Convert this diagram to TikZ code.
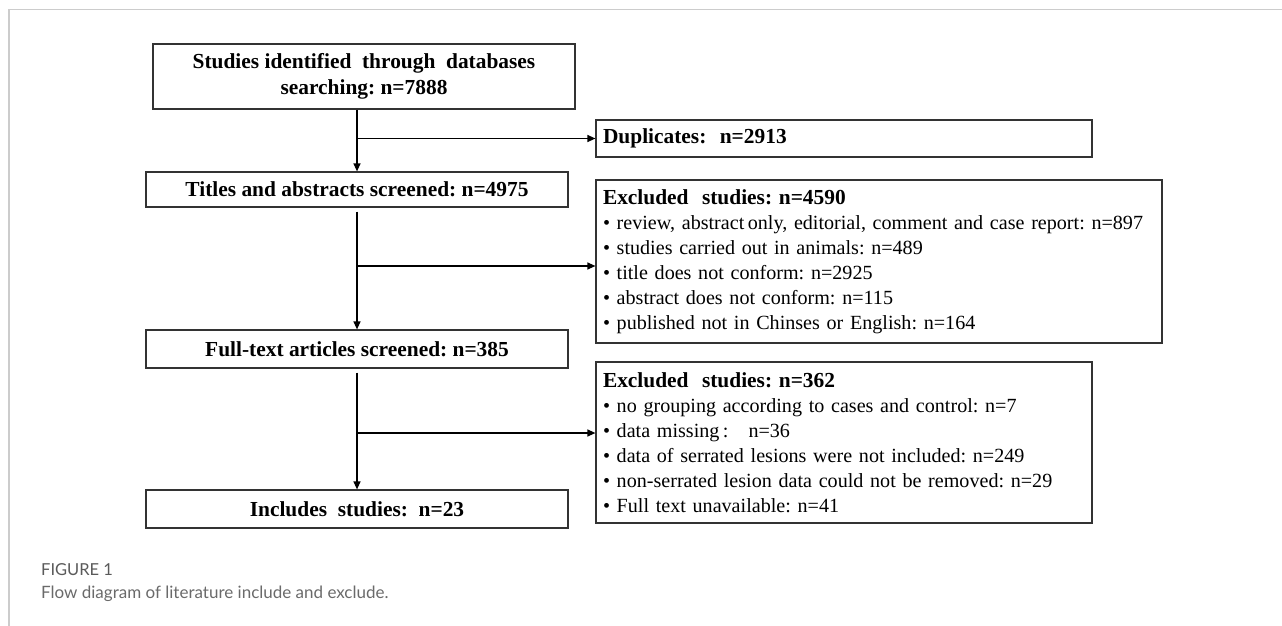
\documentclass[tikz,border=0pt]{standalone}
\usepackage{fontspec}
\setmainfont{Liberation Serif}
\newfontfamily\capfont{Lato}
\usetikzlibrary{arrows.meta}
\definecolor{boxline}{HTML}{333333}
\definecolor{framegray}{HTML}{CCCCCC}
\definecolor{capgray}{HTML}{6A6A6A}
\definecolor{capdark}{HTML}{5A5A5A}
\newcommand{\exhead}[1]{{\bfseries\fontsize{21.4}{25}\selectfont #1}}
\begin{document}
\frenchspacing
\begin{tikzpicture}[x=1pt,y=-1pt,
  mainbox/.style={draw=boxline, line width=1.2pt, inner sep=0pt,
    font=\bfseries\fontsize{21.4}{26}\selectfont, align=center},
  exbox/.style={draw=boxline, line width=1.2pt, inner xsep=7pt, inner ysep=0pt,
    font=\fontsize{20.1}{25}\selectfont, align=left},
  conn/.style={line width=1.2pt, -{Triangle[length=8pt,width=7pt]}},
  caption/.style={anchor=west, inner sep=0pt, font=\capfont\fontsize{17}{19}\selectfont}
]
\useasboundingbox (0,0) rectangle (1282,626);
% page frame
\draw[framegray, line width=1.5pt] (1282,9.5) -- (9,9.5) -- (9,626);

% left column
\node[mainbox, minimum width=422pt, minimum height=65pt] (box1) at (364,76.5)
  {Studies identified\ \ through\ \ databases\\searching: n=7888};
\node[mainbox, minimum width=422pt, minimum height=35pt] (titles) at (357,189.5)
  {Titles and abstracts screened: n=4975};
\node[mainbox, minimum width=422pt, minimum height=38pt] (full) at (357,349)
  {Full-text articles screened: n=385};
\node[mainbox, minimum width=422pt, minimum height=38pt] (incl) at (357,509)
  {Includes\ \ studies:\ \ n=23};

% right column
\node[exbox, text width=482pt, minimum height=37pt] (dup) at (844,138.5)
  {\exhead{Duplicates:\ \ n=2913}};
\node[exbox, text width=552pt, minimum height=163pt] (ex1) at (879,261.5)
  {\exhead{Excluded\ \ studies: n=4590}\\
   • review, abstract\hspace{3.5pt}only, editorial, comment and case report: n=897\\
   • studies carried out in animals: n=489\\
   • title does not conform: n=2925\\
   • abstract does not conform: n=115\\
   • published not in Chinses or English: n=164};
\node[exbox, text width=482pt, minimum height=161pt] (ex2) at (844,442.5)
  {\exhead{Excluded\ \ studies: n=362}\\
   • no grouping according to cases and control: n=7\\
   • data missing\,:\ \ \ n=36\\
   • data of serrated lesions were not included: n=249\\
   • non-serrated lesion data could not be removed: n=29\\
   • Full text unavailable: n=41};

% connectors
\coordinate (b1) at (titles.north |- dup.west);
\coordinate (b2) at (357,266);
\coordinate (b3) at (357,433);
\draw[conn] (box1.south -| titles.north) -- (titles.north);
\draw[conn] (b1) -- (dup.west);
\draw[conn, shorten <=4pt] (titles.south) -- (full.north);
\draw[conn] (b2) -- (b2 -| ex1.west);
\draw[conn, shorten <=4pt] (full.south) -- (incl.north);
\draw[conn] (b3) -- (b3 -| ex2.west);

% caption
\node[caption, text=capdark, font=\capfont\fontsize{16.5}{19}\selectfont] (figlab) at (41,570) {FIGURE 1};
\node[caption, text=capgray] (figtxt) at (41,594) {Flow diagram of literature include and exclude.};
\end{tikzpicture}
\end{document}
